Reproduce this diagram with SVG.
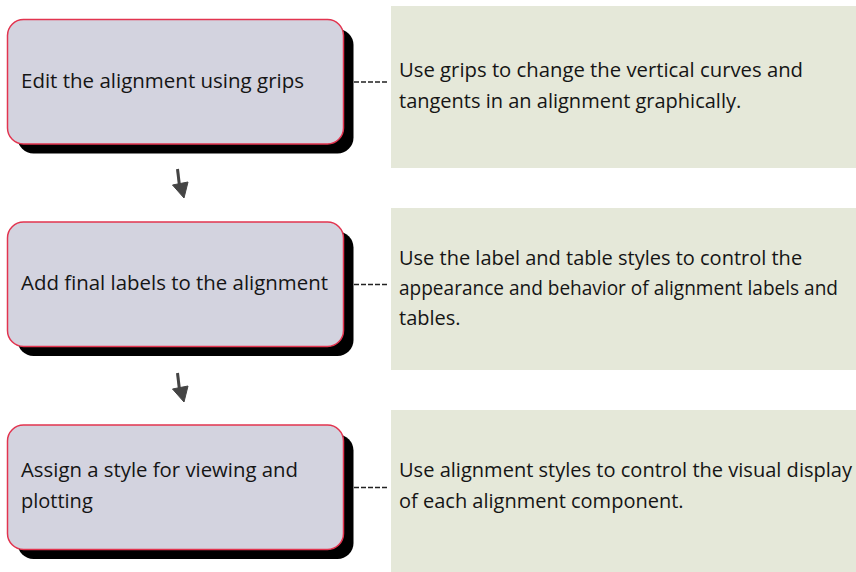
<svg xmlns="http://www.w3.org/2000/svg" width="856" height="572" viewBox="0 0 856 572">
<style>
.shadow{fill:#000}
.box{fill:#d3d3df;stroke:#e2344f;stroke-width:1.5}
.panel{fill:#e5e8d9}
.t{font-family:"Open Sans","Noto Sans",sans-serif;font-size:20px;fill:#151515}
.dash{stroke:#222;stroke-width:1.3;stroke-dasharray:5 2;fill:none}
.arrow{fill:#444;stroke:#444}
</style>
<g id="panel1"><rect class="panel" x="391" y="6" width="465" height="162"/>
<text class="t" x="399" y="77" textLength="404" lengthAdjust="spacingAndGlyphs">Use grips to change the vertical curves and</text>
<text class="t" x="399" y="108">tangents in an alignment graphically.</text></g>
<g id="panel2"><rect class="panel" x="391" y="208" width="465" height="162"/>
<text class="t" x="399" y="265">Use the label and table styles to control the</text>
<text class="t" x="399" y="295" style="font-size:19.2px" textLength="439" lengthAdjust="spacingAndGlyphs">appearance and behavior of alignment labels and</text>
<text class="t" x="399" y="325">tables.</text></g>
<g id="panel3"><rect class="panel" x="391" y="410" width="465" height="162"/>
<text class="t" x="399" y="477" textLength="453" lengthAdjust="spacingAndGlyphs">Use alignment styles to control the visual display</text>
<text class="t" x="399" y="508">of each alignment component.</text></g>
<g id="node1"><rect class="shadow" x="17.5" y="29" width="336" height="124.5" rx="16"/>
<rect class="box" x="7.5" y="19.5" width="336" height="124.5" rx="16"/>
<text class="t" x="21" y="88" textLength="283" lengthAdjust="spacingAndGlyphs">Edit the alignment using grips</text></g>
<g id="node2"><rect class="shadow" x="17.5" y="231.5" width="336" height="124.5" rx="16"/>
<rect class="box" x="7.5" y="222" width="336" height="124.5" rx="16"/>
<text class="t" x="21" y="290" textLength="307" lengthAdjust="spacingAndGlyphs">Add final labels to the alignment</text></g>
<g id="node3"><rect class="shadow" x="17.5" y="434.5" width="336" height="124.5" rx="16"/>
<rect class="box" x="7.5" y="425" width="336" height="124.5" rx="16"/>
<text class="t" x="21" y="477" textLength="277" lengthAdjust="spacingAndGlyphs">Assign a style for viewing and</text>
<text class="t" x="21" y="508">plotting</text></g>
<g id="connectors">
<line class="dash" x1="354" y1="82" x2="389" y2="82"/>
<line class="dash" x1="354" y1="284.5" x2="389" y2="284.5"/>
<line class="dash" x1="354" y1="487.5" x2="389" y2="487.5"/>
<path class="arrow" stroke-width="3" d="M177.5 169 L179.5 186" fill="none"/>
<polygon class="arrow" stroke-width="1" points="172.5,185 188,182 184,198"/>
<path class="arrow" stroke-width="3" d="M177.5 373 L179.5 390" fill="none"/>
<polygon class="arrow" stroke-width="1" points="172.5,389 188,386 184,402"/>
</g>
</svg>
